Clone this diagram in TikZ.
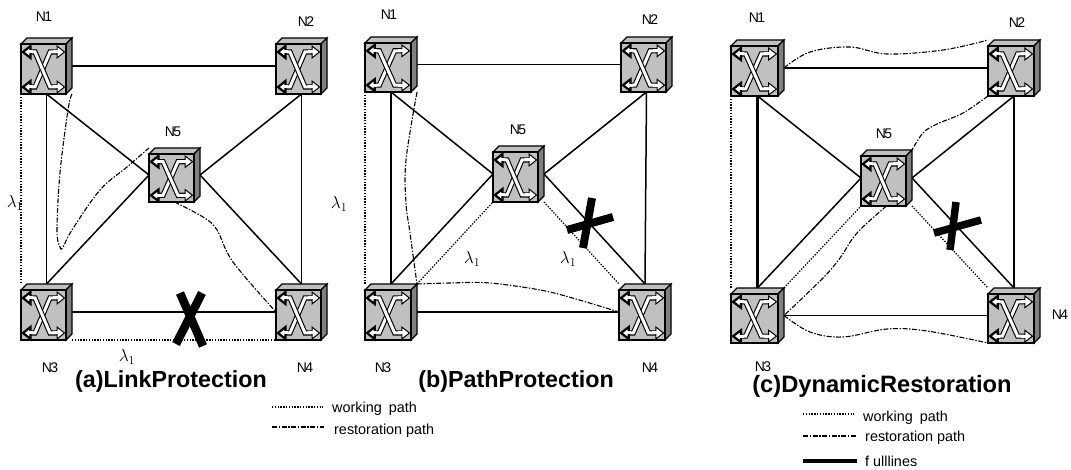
\documentclass[tikz,border=0pt]{standalone}
\usepackage{fontspec}
\setmainfont{Liberation Sans}
\newfontfamily\tightsf[LetterSpace=-12]{Liberation Sans}
\definecolor{swfront}{HTML}{C0C0C0}
\definecolor{swside}{HTML}{808080}
\tikzset{
  swbox/.style={inner sep=0pt,outer sep=0pt,rectangle,anchor=north west},
  link/.style={line width=1.5pt,black},
  thicklink/.style={line width=2.8pt,black},
  working/.style={line width=1.2pt,black,dash pattern=on 1.4pt off 1.4pt},
  restore/.style={line width=1.1pt,black,dash pattern=on 5pt off 1.6pt on 1.4pt off 1.6pt},
  cut/.style={line width=8.5pt,black},
  nlabel/.style={inner sep=0pt,font=\tightsf\fontsize{14}{14}\selectfont},
  lam/.style={inner sep=0pt,font=\fontsize{17}{17}\selectfont},
  title/.style={inner sep=0pt,font=\bfseries\fontsize{23.3}{24}\selectfont},
  legend/.style={inner sep=0pt,anchor=west,font=\fontsize{14.4}{15}\selectfont},
}
% icon drawn over a node's box: #1 left, #2 top, #3 width, #4 height
\newcommand{\swicon}[4]{%
  \pgfmathsetmacro{\swx}{(#3-6)/45}\pgfmathsetmacro{\swy}{(#4-6)/50}
  \begin{scope}[shift={(#1,#2)},line join=miter]
    \draw[line width=1.2pt,fill=swfront] (0,6)--(6,0)--(#3,0)--(#3-6,6)--cycle;
    \draw[line width=1.2pt,fill=swside] (#3-6,6)--(#3,0)--(#3,#4-6)--(#3-6,#4)--cycle;
    \draw[line width=1.2pt,fill=swfront] (0,6) rectangle (#3-6,#4);
    \begin{scope}[shift={(0,6)},xscale=\swx,yscale=\swy]
      \draw[line width=5.2pt,black] (4,43)--(14,43)--(29,8)--(41,8);
      \draw[line width=3pt,white] (4,43)--(14,43)--(29,8)--(41,8);
      \draw[line width=5.2pt,black] (4,8)--(14,8)--(29,43)--(41,43);
      \draw[line width=3pt,white] (4,8)--(14,8)--(29,43)--(41,43);
      \foreach \hy in {8,43}{
        \draw[line width=2.2pt,black,fill=white] (2,\hy)--(9.5,\hy-6)--(9.5,\hy+6)--cycle;
        \draw[line width=1pt,black,fill=white] (43.5,\hy)--(36,\hy-6)--(36,\hy+6)--cycle;
      }
      \draw[line width=3pt,white] (7,8)--(12,8) (7,43)--(12,43) (32,8)--(38,8) (32,43)--(38,43);
    \end{scope}
  \end{scope}
}
\begin{document}
\begin{tikzpicture}[x=1pt,y=-1pt]
\useasboundingbox (0,0) rectangle (1071,470);
% ---------- panel (a)
\node[swbox,minimum width=51pt,minimum height=56pt] (a1) at (21,38) {};
\node[swbox,minimum width=51pt,minimum height=56pt] (a2) at (276,38) {};
\node[swbox,minimum width=51pt,minimum height=54pt] (a5) at (149,148) {};
\node[swbox,minimum width=51pt,minimum height=56pt] (a3) at (21,284) {};
\node[swbox,minimum width=51pt,minimum height=56pt] (a4) at (276,284) {};
\draw[link] (a1.east)--(a2.west);
\draw[link] (a3.east)--(a4.west);
\draw[link] (a1.south)--(a3.north);
\draw[link] (a2.south)--(a4.north);
\draw[link] (a1.south)--(a5.west);
\draw[link] (a2.south)--(a5.east);
\draw[link] (a3.north)--(a5.west);
\draw[link] (a4.north)--(a5.east);
\draw[working] (a1.south west)--(a3.north west);
\draw[working] (a3.south east)--(a4.south west);
\draw[restore] plot[smooth,tension=0.6] coordinates {(a1.south east) (68,110) (60,173) (57,230) (60,247) (63,247) (72,230) (100,190) (127,167) (a5.north west)};
\draw[restore] plot[smooth,tension=0.6] coordinates {(a5.south) (203,217) (217,230) (233,262) (a4.west)};
\swicon{21}{38}{51}{56}
\swicon{276}{38}{51}{56}
\swicon{149}{148}{51}{54}
\swicon{21}{284}{51}{56}
\swicon{276}{284}{51}{56}
\draw[cut] (180,293)--(203,346);
\draw[cut] (202,293)--(176,344);
\node[nlabel] (la1) at (44,17) {N1};
\node[nlabel] (la2) at (306,22) {N2};
\node[nlabel] (la5) at (173,132) {N5};
\node[nlabel] (la3) at (50,368) {N3};
\node[nlabel] (la4) at (305,368) {N4};
\node[lam] (lx1) at (15,203) {$\lambda_1$};
\node[lam] (lx2) at (339,204) {$\lambda_1$};
\node[lam] (lx3) at (127,357) {$\lambda_1$};
\node[title] (ta) at (171,381) {(a)LinkProtection};
\coordinate (ka) at (272,407); \coordinate (kb) at (323,407);
\coordinate (kc) at (272,427); \coordinate (kd) at (324,427);
\draw[working] (ka)--(kb);
\draw[restore] (kc)--(kd);
\node[legend] (wa) at (332,409) {working\hspace{3pt} path};
\node[legend] (ra) at (334,431) {restoration path};
% ---------- panel (b)
\node[swbox,minimum width=52pt,minimum height=55pt] (b1) at (365,37) {};
\node[swbox,minimum width=51pt,minimum height=55pt] (b2) at (621,37) {};
\node[swbox,minimum width=51pt,minimum height=56pt] (b5) at (493,146) {};
\node[swbox,minimum width=52pt,minimum height=56pt] (b3) at (365,284) {};
\node[swbox,minimum width=52pt,minimum height=56pt] (b4) at (619,284) {};
\draw[link] (b1.east)--(b2.west);
\draw[link] (b3.east)--(b4.west);
\draw[link] (b1.south)--(b3.north);
\draw[link] (b2.south)--(b4.north);
\draw[link] (b1.south)--(b5.west);
\draw[link] (b2.south)--(b5.east);
\draw[link] (b3.north)--(b5.west);
\draw[link] (b4.north)--(b5.east);
\draw[working] (b1.south west)--(b3.north west);
\draw[working] (b3.north east)--(b5.south west);
\draw[working] (b5.south east)--(b4.north west);
\draw[restore] plot[smooth,tension=0.6] coordinates {(b1.south east) (406,160) (406,203) (410,233) (b3.north east)};
\draw[restore] plot[smooth,tension=0.5] coordinates {(b3.north east) (450,283) (490,283) (550,292) (b4.west)};
\swicon{365}{37}{52}{55}
\swicon{621}{37}{51}{55}
\swicon{493}{146}{51}{56}
\swicon{365}{284}{52}{56}
\swicon{619}{284}{52}{56}
\draw[cut,line width=8pt] (592,198)--(583,248);
\draw[cut,line width=8pt] (567,230)--(613,217);
\node[nlabel] (lb1) at (389,15) {N1};
\node[nlabel] (lb2) at (650,20) {N2};
\node[nlabel] (lb5) at (518,130) {N5};
\node[nlabel] (lb3) at (383,368) {N3};
\node[nlabel] (lb4) at (650,368) {N4};
\node[lam] (ly1) at (472,259) {$\lambda_1$};
\node[lam] (ly2) at (568,259) {$\lambda_1$};
\node[title] (tb) at (516,381) {(b)PathProtection};
% ---------- panel (c)
\node[swbox,minimum width=53pt,minimum height=56pt] (c1) at (731,40) {};
\node[swbox,minimum width=52pt,minimum height=56pt] (c2) at (988,40) {};
\node[swbox,minimum width=51pt,minimum height=56pt] (c5) at (861,150) {};
\node[swbox,minimum width=53pt,minimum height=55pt] (c3) at (731,288) {};
\node[swbox,minimum width=52pt,minimum height=55pt] (c4) at (988,288) {};
\draw[link] (c1.east)--(c2.west);
\draw[link,line width=1.8pt] (c3.east)--(c4.west);
\draw[thicklink] (c1.south)--(c3.north);
\draw[thicklink] (c2.south)--(c4.north);
\draw[link] (c1.south)--(c5.west);
\draw[link] (c2.south)--(c5.east);
\draw[link] (c3.north)--(c5.west);
\draw[link] (c4.north)--(c5.east);
\draw[working] (c1.south west)--(c3.north west);
\draw[working] (c3.north east)--(c5.south west);
\draw[working] (c5.south east)--(c4.north west);
\draw[restore] plot[smooth,tension=0.6] coordinates {(c1.east) (810,52) (850,47) (887,54) (943,50) (c2.north west)};
\draw[restore] plot[smooth,tension=0.6] coordinates {(c2.south west) (963,113) (937,124) (923,133) (c5.north east)};
\draw[restore] plot[smooth,tension=0.6] coordinates {(c5.south) (857,233) (840,258) (823,278) (c3.east)};
\draw[restore] plot[smooth,tension=0.6] coordinates {(c3.east) (810,332) (843,337) (887,329) (927,331) (c4.south west)};
\swicon{731}{40}{53}{56}
\swicon{988}{40}{52}{56}
\swicon{861}{150}{51}{56}
\swicon{731}{288}{53}{55}
\swicon{988}{288}{52}{55}
\draw[cut,line width=7.5pt] (956,202)--(950,250);
\draw[cut,line width=7.5pt] (934,233)--(981,220);
\node[nlabel] (lc1) at (757,18) {N1};
\node[nlabel] (lc2) at (1017,23) {N2};
\node[nlabel] (lc5) at (884,134) {N5};
\node[nlabel] (lc3) at (763,367) {N3};
\node[nlabel] (lc4) at (1060,315) {N4};
\node[title,font=\bfseries\fontsize{23.7}{24}\selectfont] (tc) at (882,386) {(c)DynamicRestoration};
\coordinate (ke) at (803,414); \coordinate (kf) at (854,414);
\coordinate (kg) at (803,436); \coordinate (kh) at (857,436);
\coordinate (ki) at (803,461); \coordinate (kj) at (857,461);
\draw[working] (ke)--(kf);
\draw[restore] (kg)--(kh);
\draw[line width=4pt] (ki)--(kj);
\node[legend] (wc) at (863,418) {working\hspace{3pt} path};
\node[legend] (rc) at (865,438) {restoration path};
\node[legend] (fc) at (865,461) {f ulllines};
\end{tikzpicture}
\end{document}
